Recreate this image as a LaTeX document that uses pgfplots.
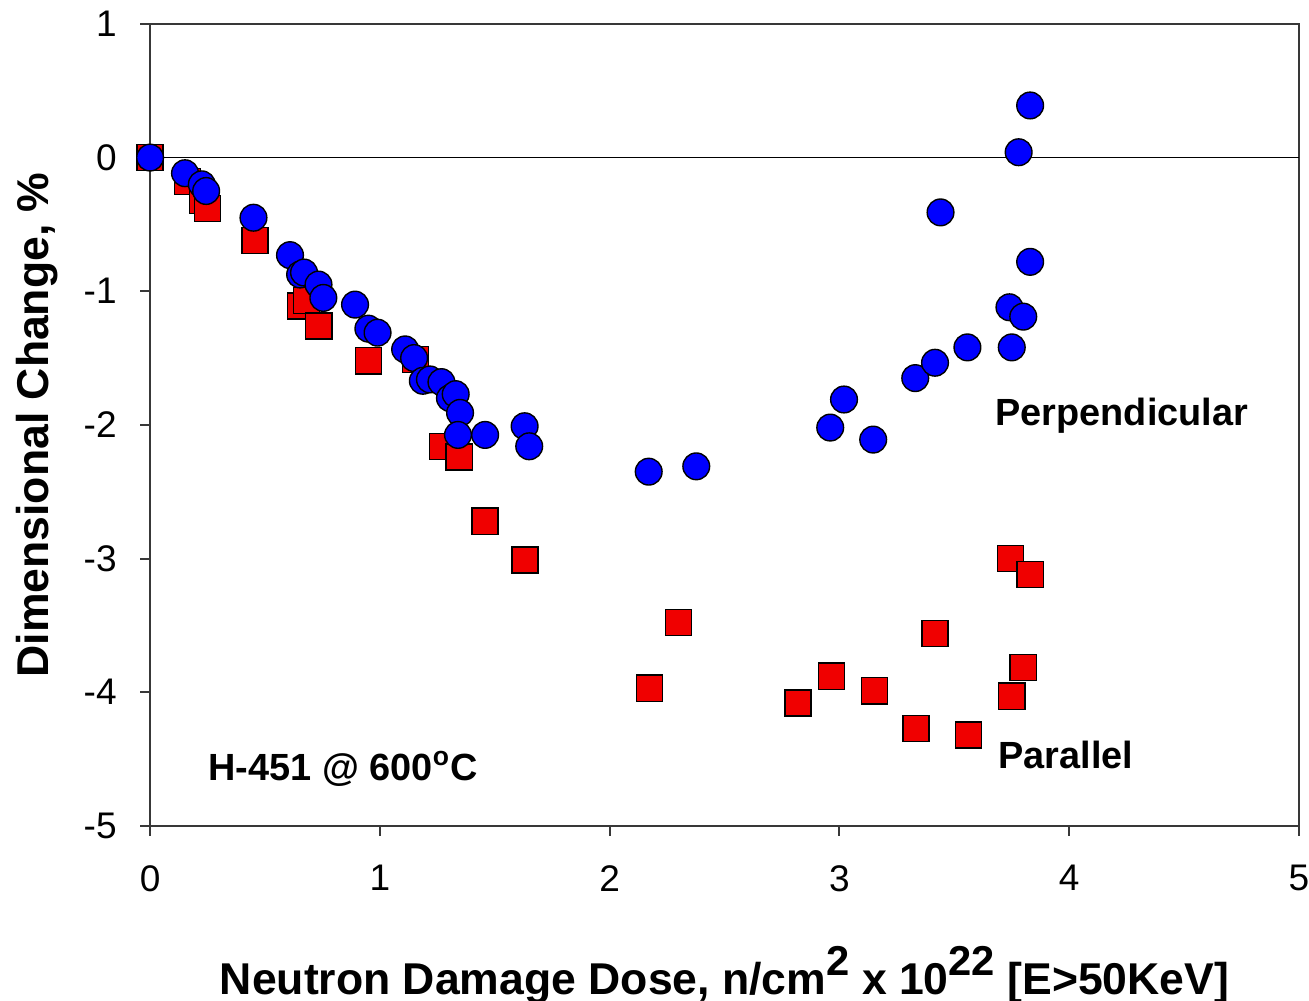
\documentclass[border=0pt]{standalone}
\usepackage{pgfplots}
\pgfplotsset{compat=1.18}
\usepackage{fontspec}
\setmainfont{Liberation Sans}
\definecolor{perpblue}{HTML}{0000FF}
\definecolor{parred}{HTML}{F00000}
\definecolor{axgray}{HTML}{383838}
\newcommand\bigsup[1]{\raisebox{7pt}{\fontsize{15}{15}\selectfont #1}}

\begin{document}
\begin{tikzpicture}
\begin{axis}[
  scale only axis,
  width=412.6pt, height=288pt,
  xmin=0, xmax=5, ymin=-5, ymax=1,
  xtick={0,1,2,3,4,5}, ytick={-5,-4,-3,-2,-1,0,1},
  xtick pos=left, ytick pos=left,
  tick align=outside, major tick length=3.6pt,
  axis line style={axgray, line width=0.7pt},
  tick style={axgray, line width=0.7pt},
  /pgf/number format/assume math mode=true,
  ticklabel style={font=\fontsize{13.3}{15}\selectfont},
  xticklabel style={anchor=north, inner sep=0pt, yshift=-10.4pt},
  yticklabel style={anchor=east, inner sep=0pt, xshift=-8.2pt},
  clip=false,
]
\coordinate (ll) at (rel axis cs:0,0);
\coordinate (ur) at (rel axis cs:1,1);
\addplot[black, line width=0.5pt, forget plot] coordinates {(0,0) (5,0)};

% parallel
\addplot[only marks, mark=square*, mark size=4.7pt,
  mark options={fill=parred, draw=black, line width=0.5pt}] coordinates {
(0,0) (0.162,-0.18) (0.228,-0.32) (0.25,-0.38) (0.457,-0.62)
(0.654,-1.11) (0.68,-1.07) (0.734,-1.26) (0.95,-1.52) (1.155,-1.51)
(1.272,-2.16) (1.345,-2.24) (1.458,-2.72) (1.632,-3.01)
(2.173,-3.97) (2.30,-3.48) (2.82,-4.08) (2.966,-3.88) (3.152,-3.99)
(3.333,-4.27) (3.416,-3.56) (3.562,-4.32) (3.745,-3.00) (3.83,-3.12)
(3.80,-3.815) (3.75,-4.03)
};

% perpendicular
\addplot[only marks, mark=*, mark size=4.8pt,
  mark options={fill=perpblue, draw=black, line width=0.5pt}] coordinates {
(0,0) (0.152,-0.117) (0.225,-0.20) (0.244,-0.25) (0.45,-0.45)
(0.609,-0.73) (0.653,-0.875) (0.67,-0.86) (0.733,-0.95) (0.754,-1.05)
(0.892,-1.10) (0.95,-1.28) (0.99,-1.31) (1.11,-1.435) (1.149,-1.50)
(1.187,-1.67) (1.218,-1.66) (1.268,-1.68) (1.305,-1.80) (1.33,-1.77)
(1.349,-1.91) (1.34,-2.075) (1.458,-2.075) (1.63,-2.01) (1.65,-2.16)
(2.17,-2.35) (2.377,-2.31) (2.96,-2.02) (3.02,-1.81) (3.147,-2.11)
(3.33,-1.65) (3.416,-1.535) (3.557,-1.42) (3.75,-1.42) (3.74,-1.12)
(3.80,-1.19) (3.83,-0.78) (3.44,-0.41) (3.78,0.04) (3.83,0.39)
};

\node[anchor=base west, inner sep=0pt, font=\bfseries\fontsize{13.6}{16}\selectfont]
  at (axis cs:3.677,-2.007) {Perpendicular};
\node[anchor=base west, inner sep=0pt, font=\bfseries\fontsize{13.6}{16}\selectfont]
  at (axis cs:3.69,-4.567) {Parallel};
\node[anchor=base west, inner sep=0pt, font=\bfseries\fontsize{13.6}{16}\selectfont]
  at (axis cs:0.252,-4.657) {H-451 @ 600\textsuperscript{o}C};

\node[anchor=base, inner sep=0pt, font=\bfseries\fontsize{16}{19}\selectfont]
  at ([yshift=-60.7pt]rel axis cs:0.5,0)
  {Neutron Damage Dose, n/cm\bigsup{2} x 10\bigsup{22} [E>50KeV]};
\node[rotate=90, anchor=base, inner sep=0pt, font=\bfseries\fontsize{16}{19}\selectfont]
  at ([xshift=-36.6pt]rel axis cs:0,0.5) {Dimensional Change, \%};
\end{axis}
\pgfresetboundingbox
\path ([shift={(-53.9pt,-62.8pt)}]ll) rectangle ([shift={(3.6pt,8.6pt)}]ur);
\end{tikzpicture}
\end{document}
